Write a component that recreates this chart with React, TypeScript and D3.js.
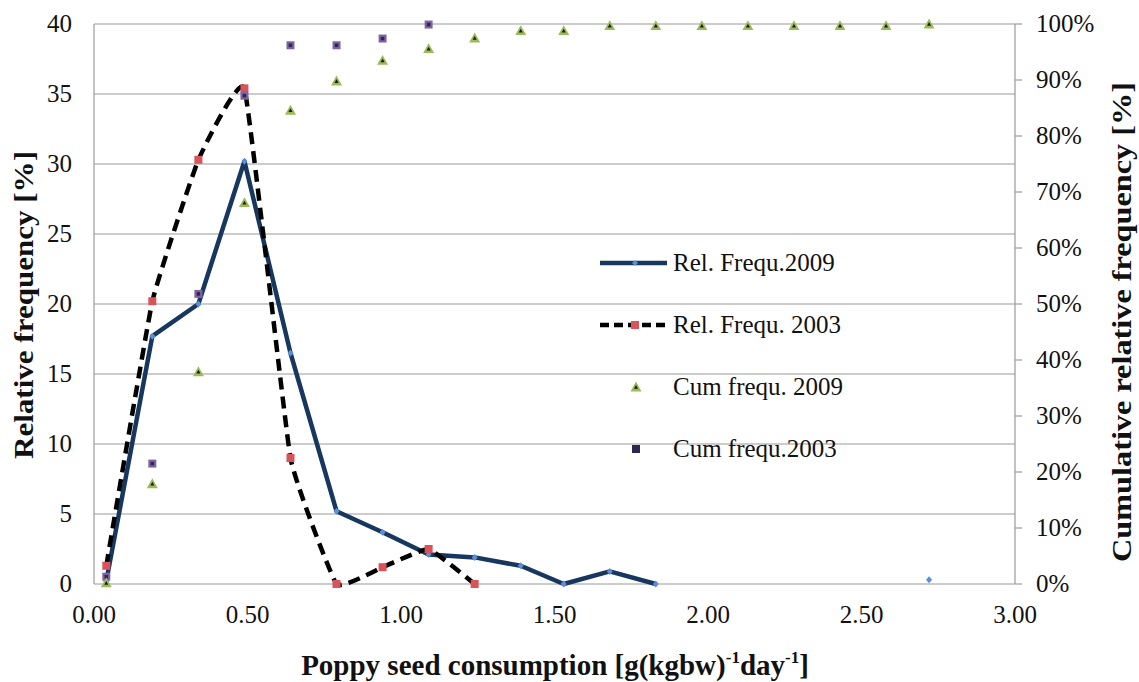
import { line, curveCardinal, curveLinear, scaleLinear } from 'd3'

const xValues = [0.04, 0.19, 0.34, 0.49, 0.64, 0.79, 0.94, 1.09, 1.24, 1.39, 1.53, 1.68, 1.83, 1.98, 2.13, 2.28, 2.43, 2.58, 2.72]

// relative frequency [%], left axis (null = no value)
const rel2009 = [0.2, 17.7, 20.0, 30.2, 16.5, 5.2, 3.7, 2.1, 1.9, 1.3, 0, 0.9, 0, null, null, null, null, null, 0.3]
const rel2003 = [1.3, 20.2, 30.3, 35.4, 9.0, 0, 1.2, 2.5, 0, null, null, null, null, null, null, null, null, null, null]

// cumulative relative frequency [%], right axis
const cum2009 = [0.2, 17.9, 37.9, 68.1, 84.6, 89.8, 93.5, 95.6, 97.5, 98.8, 98.8, 99.7, 99.7, 99.7, 99.7, 99.7, 99.7, 99.7, 100]
const cum2003 = [1.3, 21.5, 51.8, 87.2, 96.2, 96.2, 97.4, 99.9, null, null, null, null, null, null, null, null, null, null, null]

const xTicks = [0, 0.5, 1, 1.5, 2, 2.5, 3]
const leftTicks = [0, 5, 10, 15, 20, 25, 30, 35, 40]
const rightTicks = [0, 10, 20, 30, 40, 50, 60, 70, 80, 90, 100]

const legendItems = ['Rel. Frequ.2009', 'Rel. Frequ. 2003', 'Cum frequ. 2009', 'Cum frequ.2003']

const W = 1139
const H = 682
const margin = { top: 24, right: 124, bottom: 98, left: 94 }
const SERIF = 'Liberation Serif'
const txt = { fontFamily: `'${SERIF}'` }

const NAVY = '#17375e'
const LIGHTBLUE = '#5b8fd6'
const RED = '#d9545a'
const GREEN = '#9bbb59'
const PURPLE = '#8064a2'
const GRID = '#9a9a9a'

type Pt = { x: number; y: number | null }

function Triangle({ cx, cy }: { cx: number; cy: number }) {
  const r = 5.5
  const r2 = 2
  return (
    <g>
      <path d={`M${cx},${cy - r} L${cx + r},${cy + r * 0.8} L${cx - r},${cy + r * 0.8} Z`} fill={GREEN} />
      <path d={`M${cx},${cy - r2} L${cx + r2},${cy + r2 * 0.9} L${cx - r2},${cy + r2 * 0.9} Z`} fill="#1a1a1a" />
    </g>
  )
}

function Square({ cx, cy }: { cx: number; cy: number }) {
  return (
    <g>
      <rect x={cx - 4} y={cy - 4} width={8} height={8} fill={PURPLE} />
      <rect x={cx - 1.8} y={cy - 1.8} width={3.6} height={3.6} fill="#2d2850" />
    </g>
  )
}

export default function App() {
  const iw = W - margin.left - margin.right
  const ih = H - margin.top - margin.bottom

  const x = scaleLinear().domain([0, 3]).range([0, iw])
  const yL = scaleLinear().domain([0, 40]).range([ih, 0])
  const yR = scaleLinear().domain([0, 100]).range([ih, 0])

  const pts = (vals: (number | null)[]): Pt[] => xValues.map((v, i) => ({ x: v, y: vals[i] }))

  const lineL = (curve: any) =>
    line<Pt>()
      .defined((d) => d.y !== null)
      .x((d) => x(d.x))
      .y((d) => yL(d.y as number))
      .curve(curve)

  const p2009 = pts(rel2009)
  const p2003 = pts(rel2003)
  const c2009 = pts(cum2009).filter((d) => d.y !== null)
  const c2003 = pts(cum2003).filter((d) => d.y !== null)

  const legendX = 600 - margin.left
  const legendY0 = 263 - margin.top
  const legendStep = 62

  return (
    <svg width={W} height={H} style={{ position: 'absolute', left: 0, top: 0, background: '#fff' }}>
      <style>{`text, tspan { font-family: '${SERIF}' !important; }`}</style>
      <g transform={`translate(${margin.left},${margin.top})`}>
        {leftTicks.map((t) => (
          <line key={`g${t}`} x1={0} x2={iw} y1={yL(t)} y2={yL(t)} stroke={GRID} strokeWidth={1.2} />
        ))}
        <line x1={0} x2={0} y1={0} y2={ih} stroke={GRID} strokeWidth={1.2} />
        <line x1={iw} x2={iw} y1={0} y2={ih} stroke={GRID} strokeWidth={1.2} />

        {rightTicks.map((t) => (
          <g key={`r${t}`} transform={`translate(${iw},${yR(t)})`}>
            <line x1={0} x2={7} stroke={GRID} strokeWidth={1.2} />
            <text x={21} y={8} fontSize={25} fill="#111" fontFamily={SERIF} style={txt}>
              {t}%
            </text>
          </g>
        ))}

        {leftTicks.map((t) => (
          <text key={`l${t}`} x={-22} y={yL(t) + 8} fontSize={25} textAnchor="end" fill="#111" fontFamily={SERIF} style={txt}>
            {t}
          </text>
        ))}

        {xTicks.map((t) => (
          <text key={`x${t}`} x={x(t)} y={ih + 39} fontSize={25} textAnchor="middle" fill="#111" fontFamily={SERIF} style={txt}>
            {t.toFixed(2)}
          </text>
        ))}

        {/* Rel. Frequ. 2009 */}
        <path d={lineL(curveLinear)(p2009) ?? ''} fill="none" stroke={NAVY} strokeWidth={4.5} strokeLinejoin="round" />
        {p2009
          .filter((d) => d.y !== null)
          .map((d, i) => (
            <path
              key={`d${i}`}
              d={`M${x(d.x)},${yL(d.y as number) - 3.5} l3,3.5 l-3,3.5 l-3,-3.5 Z`}
              fill={LIGHTBLUE}
            />
          ))}

        {/* Rel. Frequ. 2003 */}
        <path
          d={lineL(curveCardinal.tension(0.7))(p2003) ?? ''}
          fill="none"
          stroke="#000"
          strokeWidth={4.5}
          strokeDasharray="12 7"
        />
        {p2003
          .filter((d) => d.y !== null)
          .map((d, i) => (
            <rect key={`s${i}`} x={x(d.x) - 4} y={yL(d.y as number) - 4} width={8} height={8} fill={RED} />
          ))}

        {/* cumulative markers */}
        {c2003.map((d, i) => (
          <Square key={`c3${i}`} cx={x(d.x)} cy={yR(d.y as number)} />
        ))}
        {c2009.map((d, i) => (
          <Triangle key={`c9${i}`} cx={x(d.x)} cy={yR(d.y as number)} />
        ))}

        {/* legend */}
        <g transform={`translate(${legendX},${legendY0})`}>
          <line x1={0} x2={67} y1={0} y2={0} stroke={NAVY} strokeWidth={4.5} />
          <path d={`M35,-3 l3,3 l-3,3 l-3,-3 Z`} fill={LIGHTBLUE} />
          <line x1={0} x2={67} y1={legendStep} y2={legendStep} stroke="#000" strokeWidth={4.5} strokeDasharray="9 5" />
          <rect x={31} y={legendStep - 4} width={8} height={8} fill={RED} />
          <Triangle cx={36} cy={legendStep * 2} />
          <rect x={32} y={legendStep * 3 - 4} width={8} height={8} fill="#2d2850" />
          {legendItems.map((label, i) => (
            <text key={label} x={73} y={i * legendStep + 8} fontSize={25} fill="#111" fontFamily={SERIF} style={txt}>
              {label}
            </text>
          ))}
        </g>
      </g>

      <text
        transform={`translate(33,305) rotate(-90)`}
        textAnchor="middle"
        fontSize={28}
        fontWeight="bold"
        fill="#111"
        fontFamily={SERIF}
        style={txt}
        textLength={308}
        lengthAdjust="spacingAndGlyphs"
      >
        Relative frequency [%]
      </text>
      <text
        transform={`translate(1131,322) rotate(-90)`}
        textAnchor="middle"
        fontSize={28}
        fontWeight="bold"
        fill="#111"
        fontFamily={SERIF}
        style={txt}
        textLength={480}
        lengthAdjust="spacingAndGlyphs"
      >
        Cumulative relative frequency [%]
      </text>
      <text x={555} y={675} textAnchor="middle" fontSize={29} fontWeight="bold" fill="#111" fontFamily={SERIF} style={txt}>
        Poppy seed consumption [g(kgbw)
        <tspan fontSize={17} dy={-12}>
          -1
        </tspan>
        <tspan dy={12}>day</tspan>
        <tspan fontSize={17} dy={-12}>
          -1
        </tspan>
        <tspan dy={12}>]</tspan>
      </text>
    </svg>
  )
}
